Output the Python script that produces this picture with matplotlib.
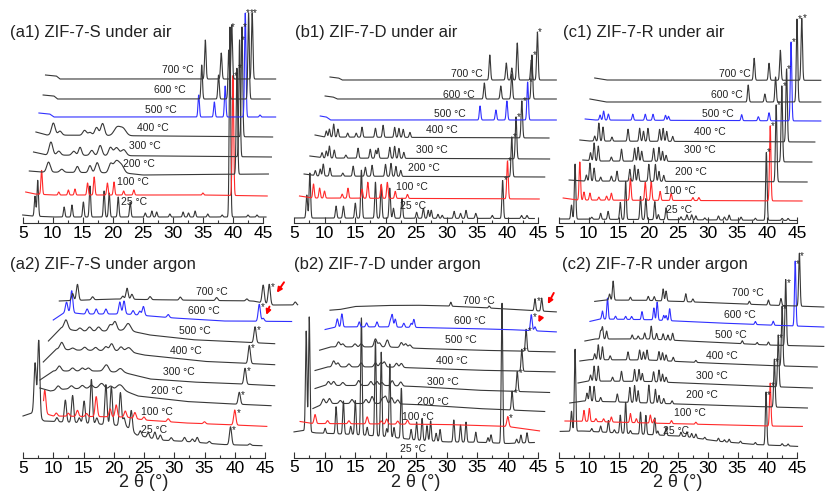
import numpy as np
import matplotlib.pyplot as plt
from matplotlib.ticker import MultipleLocator

plt.rcParams['font.family'] = ['Liberation Sans', 'DejaVu Sans']

W, H = 825, 499

temps = ['25 °C', '100 °C', '200 °C', '300 °C', '400 °C', '500 °C', '600 °C', '700 °C']
titles = ['(a1) ZIF-7-S under air', '(b1) ZIF-7-D under air', '(c1) ZIF-7-R under air',
          '(a2) ZIF-7-S under argon', '(b2) ZIF-7-D under argon', '(c2) ZIF-7-R under argon']

# ---------------- (a1) ----------------
a1_span = [(5.0, 45.5), (5.5, 45.7), (6.1, 45.9), (6.8, 46.4), (7.2, 46.6), (7.7, 47.1), (8.4, 46.2), (8.8, 47.1)]
a1_base = [
    [(5.0, 8), (6.5, 7), (10, 6), (45.5, 6)],
    [(5.5, 31), (7, 29), (10, 28), (35, 28), (45.7, 27)],
    [(6.1, 52), (8, 51), (22, 50), (25, 48), (46, 49)],
    [(6.8, 71), (9, 68), (46.4, 66)],
    [(7.2, 91), (9, 88), (46.6, 86)],
    [(7.7, 110), (9.5, 109), (10.2, 106), (47.1, 106)],
    [(8.4, 128), (10.2, 127), (10.8, 124), (46.2, 124)],
    [(8.8, 148), (10.6, 147), (11.2, 144), (47.1, 144)],
]
a1_peaks = [
    [(7.05, 20), (7.5, 36), (11.9, 10), (13.2, 12), (15.1, 15), (16.2, 31), (18.55, 26), (19.4, 24), (20.9, 20),
     (22.9, 15), (25.4, 4), (26.5, 6), (27.3, 5), (29.5, 3), (31.7, 5), (32.6, 4), (33.7, 6), (35.8, 3), (38.2, 2),
     (39.5, 190), (42.5, 2), (44, 2)],
    [(8.15, 24), (11.0, 3), (12.6, 5), (13.7, 6), (15.8, 12), (16.9, 18), (19.1, 12), (20.2, 13), (21.8, 4),
     (23.5, 5), (35, 2), (40.0, 120)],
    [(9.3, 10, 0.3), (11.5, 3, 0.3), (14.1, 6, 0.25), (16.2, 7, 0.25), (17.4, 10, 0.3), (19.6, 8, 0.3),
     (20.6, 12, 0.5), (21.5, 6, 0.4), (40.66, 106)],
    [(9.7, 13, 0.3), (11, 4, 0.3), (13.5, 4, 0.3), (14.55, 8, 0.25), (16.5, 5, 0.3), (17.9, 10, 0.3),
     (19.6, 8, 0.3), (20.6, 8, 0.4), (21.8, 6, 0.4), (41.1, 117)],
    [(10.1, 12, 0.3), (11.2, 4, 0.3), (15.3, 5, 0.3), (16.2, 3, 0.3), (17.3, 8, 0.3), (18.3, 12, 0.3),
     (20.7, 8, 0.5), (21.7, 7, 0.5), (41.5, 110)],
    [(34.3, 22), (36.9, 15), (38.7, 31), (42.05, 104), (44.5, 2)],
    [(34.8, 34), (37.6, 24), (39.3, 49), (42.6, 86)],
    [(35.4, 39), (38.05, 26), (39.8, 54), (43.2, 66)],
]
a1_star = [39.5, 40.0, 40.66, 41.1, 41.5, 42.05, 42.6, 43.2]

# ---------------- (b1) ----------------
b1_span = [(5.2, 44.4), (5.9, 45.2), (6.65, 46.1), (7.6, 46.9), (8.45, 46.8), (9.3, 48.0), (10.1, 48.0), (10.9, 48.0)]
b1_base = [
    [(5.2, 5), (45, 4.5)],
    [(5.9, 27), (8, 25), (45.2, 24)],
    [(6.65, 49), (9, 47), (46.1, 46)],
    [(7.6, 67), (10, 65), (46.9, 64)],
    [(8.45, 88), (10, 86), (46.8, 85)],
    [(9.3, 107), (10.3, 106), (11, 103), (48, 103)],
    [(10.1, 127), (11.4, 126), (12.1, 124), (48, 124)],
    [(10.9, 146), (12.3, 145), (12.9, 143), (48, 143)],
]
b1_peaks = [
    [(7.1, 23), (7.6, 45), (11.9, 12), (13.1, 12), (15.05, 15), (16.05, 48), (18.35, 36), (19.3, 33), (20.7, 30),
     (21.3, 10), (22.7, 20), (25.1, 6), (26.2, 10), (27.0, 8), (27.5, 8), (28.6, 4), (29.3, 3), (31.25, 7),
     (32.3, 5), (33.2, 8), (34.8, 5), (37.5, 3), (39.2, 38), (42.3, 3), (43.2, 3)],
    [(8.2, 14), (9.2, 10), (10.0, 7), (12.9, 4), (13.85, 10), (16.15, 9), (17.1, 16), (19.3, 14), (20.3, 16),
     (21.6, 7), (23.6, 4), (40.0, 38)],
    [(8.5, 5), (9.3, 7), (9.8, 12), (10.9, 8), (13.0, 3), (14.7, 10), (16.7, 9), (17.8, 11), (20.0, 12),
     (20.9, 13), (21.7, 10), (22.5, 6), (40.7, 40)],
    [(9.6, 5), (10.3, 7), (10.8, 12), (11.6, 8), (13.5, 3), (15.5, 10), (17.5, 9), (18.4, 8), (18.8, 10),
     (20.7, 11), (21.5, 12), (22.2, 10), (23.0, 6), (41.4, 42)],
    [(10.3, 6), (10.8, 8), (11.5, 13), (12.2, 8), (13.8, 4), (15.2, 4), (16.15, 10), (18.35, 9), (19.6, 12),
     (21.5, 10), (22.2, 9), (22.9, 8), (24.0, 5), (42.35, 37)],
    [(35.5, 14), (38.1, 10), (39.9, 19), (43.3, 38)],
    [(36.2, 16), (38.9, 13), (40.7, 25), (44.0, 44)],
    [(37.1, 25), (39.8, 17), (40.7, 12), (41.6, 37), (43.9, 20), (44.9, 48)],
]
b1_star = [39.2, 40.0, 40.7, 41.4, 42.35, 43.3, 44.0, 44.9]

# ---------------- (c1) ----------------
c1_span = [(5.1, 45.0), (5.7, 45.85), (6.7, 46.7), (9.0, 47.5), (8.5, 48.0), (9.4, 49.0), (10.2, 49.0), (11.0, 49.0)]
c1_base = [
    [(5.1, 4), (45, 2.5)],
    [(5.7, 25), (8, 23), (45.85, 22)],
    [(6.7, 43), (9, 42), (46.7, 41)],
    [(9.0, 63), (11, 62), (47.5, 61)],
    [(8.5, 83), (10, 82), (48, 81)],
    [(9.4, 104), (11, 103), (49, 102)],
    [(10.2, 124), (12, 122), (12.8, 121), (49, 121)],
    [(11.0, 145), (13, 143), (49, 142.7)],
]
c1_peaks = [
    [(7.1, 14), (7.7, 55), (10.5, 2), (12.0, 6), (13.25, 8), (15.3, 17), (16.2, 38), (18.7, 23), (19.6, 21),
     (21.1, 18), (21.7, 5), (23.0, 12), (25.5, 3), (26.5, 5), (27.3, 5), (28.0, 4), (29.5, 2), (31.8, 4),
     (32.8, 3), (33.6, 5), (35.6, 3), (38.0, 2), (39.85, 68), (42.5, 2), (43.5, 2)],
    [(8.5, 38), (9.2, 8), (10.2, 7), (11.7, 3), (13.0, 4), (13.8, 7), (17.0, 22), (19.5, 18), (20.5, 19),
     (22.0, 9), (23.85, 7), (27.5, 3), (28.5, 3), (40.5, 75)],
    [(9.6, 6), (10.2, 18), (10.9, 13), (12.0, 4), (13.8, 5), (14.75, 10), (16.9, 12), (17.7, 16), (18.3, 12),
     (20.1, 17), (21.2, 17), (21.8, 10), (22.6, 6), (41.5, 77)],
    [(10.3, 8), (10.9, 18), (11.6, 15), (13.8, 4), (15.5, 12), (17.7, 13), (18.3, 14), (18.9, 10), (20.9, 13),
     (21.8, 14), (22.4, 10), (23.0, 6), (42.45, 76)],
    [(11.0, 5), (11.7, 18), (12.4, 14), (13.9, 4), (16.6, 12), (18.55, 13), (19.2, 10), (19.95, 13), (21.9, 12),
     (22.5, 13), (23.1, 10), (24.1, 5), (43.25, 73)],
    [(11.9, 5), (12.5, 9), (13.3, 6), (17.4, 6), (19.5, 6), (20.8, 6), (22.9, 5), (23.4, 4), (35.7, 6),
     (38.5, 4), (40.3, 8), (44.0, 79)],
    [(36.8, 17), (39.6, 8), (41.4, 25), (45.0, 83)],
    [(37.8, 22), (40.3, 17), (42.2, 30), (45.8, 62)],
]
c1_star = [39.85, 40.5, 41.5, 42.45, 43.25, 44.0, 45.0, 45.8]

# ---------------- (a2) ----------------
a2_span = [(5.0, 44.5), (8.4, 45.3), (7.8, 46.0), (7.8, 46.6), (8.35, 46.6), (9.2, 46.6), (10.0, 49.4), (11.0, 50.4)]
a2_base = [
    [(5.0, 42), (6.5, 45), (8.5, 37), (15, 35), (22.0, 32), (23.8, 23), (27.5, 18), (32, 16.5), (38, 13.5), (44.5, 12.3)],
    [(8.4, 45), (10, 42), (22, 41), (25, 38), (32, 35), (40, 33), (45.3, 31.6)],
    [(7.8, 70), (9.5, 67), (12, 69), (17, 70), (21.5, 68), (24, 62), (32, 56.5), (38, 54.5), (46, 52.3)],
    [(7.8, 78), (10.0, 87), (18, 87), (22, 85), (26, 79), (33, 76), (41, 74), (46.6, 72.3)],
    [(8.35, 96), (10.5, 109), (13, 108), (22, 107), (25, 103), (35, 96.6), (46.6, 93.3)],
    [(9.2, 117), (11.3, 130), (14, 127), (19, 127), (22, 128), (26, 123), (33, 118.3), (46.6, 114.3)],
    [(10.0, 138), (12, 146), (15, 144), (22, 144), (30, 140), (38, 137), (49.4, 136.5)],
    [(11.0, 157), (20, 159), (30, 158), (43, 157), (46.3, 153), (50.4, 153)],
]
a2_peaks = [
    [(7.0, 52), (7.6, 77), (10.6, 4), (12.0, 22), (13.2, 27), (14.3, 5), (15.1, 22), (16.3, 44), (17.2, 6),
     (18.7, 40), (19.6, 38), (21.1, 33), (21.7, 8), (22.9, 20), (24.4, 5), (25.7, 5), (26.8, 7), (27.7, 5),
     (29.5, 3), (31.7, 4), (33.0, 3), (33.8, 5), (35.8, 2), (39.3, 18), (42.5, 1.5)],
    [(8.6, 23), (10.5, 3), (12.5, 3), (14.0, 6), (15.5, 3), (17.1, 20), (19.4, 8), (20.4, 12), (21.9, 6),
     (23.5, 6), (25.0, 3), (29.0, 3), (35.0, 2), (40.0, 15)],
    [(10.8, 4, 0.3), (13, 3, 0.3), (14.8, 3, 0.3), (16.3, 3, 0.3), (18.0, 5, 0.4), (19.5, 3, 0.3),
     (21.0, 5, 0.5), (40.75, 12)],
    [(11.0, 5, 0.3), (13.2, 3, 0.3), (14.8, 3, 0.3), (15.8, 3, 0.3), (18.5, 3, 0.3), (18.9, 5, 0.3),
     (21.1, 4, 0.4), (41.7, 16)],
    [(11.4, 7, 0.3), (13.2, 2, 0.3), (15.2, 3, 0.3), (17.0, 3, 0.3), (18.7, 4, 0.3), (19.65, 7, 0.3),
     (21.2, 4, 0.3), (22.5, 4, 0.4), (42.4, 18)],
    [(12.1, 9, 0.3), (14.4, 3, 0.3), (16.0, 4, 0.3), (17.5, 4, 0.3), (19.4, 6, 0.3), (20.2, 9, 0.3),
     (22.4, 7, 0.4), (43.35, 16)],
    [(12.2, 10), (13.05, 22), (15.6, 5), (17.1, 5), (18.7, 5), (21.0, 12), (21.7, 13), (23.2, 4), (24.3, 4),
     (24.9, 9), (29.0, 3), (44.05, 17), (44.7, 3)],
    [(13.2, 7), (14.0, 16), (16.5, 3), (21.5, 3), (22.2, 11), (23.0, 5), (26.0, 3), (31.0, 3), (37.0, 3),
     (42.0, 2), (44.7, 18), (45.7, 20), (50.0, 3)],
]
a2_star = [39.3, 40.0, 40.75, 41.7, 42.4, 43.35, 44.05, 45.7]

# ---------------- (b2) ----------------
b2_span = [(5.0, 44.4), (6.0, 45.25), (8.1, 46.1), (8.45, 46.9), (8.45, 47.8), (9.2, 47.8), (10.1, 48.0), (10.9, 48.0)]
b2_base = [
    [(5.0, 25.6), (6.5, 27), (8.5, 24.6), (15, 23), (20, 21), (25, 17.5), (30, 15.6), (35, 15.3), (40, 14), (44.4, 15)],
    [(6.0, 36), (8, 34), (20, 33.5), (30, 33), (40, 31), (45.25, 26.6)],
    [(8.1, 49), (10, 54), (20, 54), (25, 53), (35, 49), (46.1, 46)],
    [(8.45, 69), (10, 72), (20, 72), (25, 71), (35, 67.3), (46.9, 65)],
    [(8.45, 87), (10.5, 90.6), (20, 90.6), (25, 89.5), (35, 87.3), (47.8, 85.6)],
    [(9.2, 107.3), (11, 110.6), (20, 110.6), (26, 109), (35, 107.3), (47.8, 105.6)],
    [(10.1, 128), (12, 130.6), (20, 130.6), (30, 129.5), (40, 128), (48, 125.6)],
    [(10.9, 147.3), (12.5, 148), (15, 151), (20, 152), (25, 152.3), (30, 151.5), (37, 149.5), (43, 147.3), (48, 145.6)],
]
b2_peaks = [
    [(7.0, 100), (7.5, 115), (10.1, 5), (11.9, 27), (13.1, 33), (14.3, 8), (15.05, 34), (16.05, 117), (17.0, 8),
     (18.35, 95), (19.3, 84), (20.2, 8), (20.7, 73), (21.4, 10), (22.6, 50), (24.2, 10), (25.1, 18), (26.0, 22),
     (26.8, 15), (27.4, 20), (28.3, 8), (28.95, 12), (31.2, 22), (32.3, 17), (33.2, 20), (34.8, 10), (36.8, 5),
     (37.3, 8), (39.1, 140), (41.5, 4), (42.2, 8), (43.2, 10)],
    [(8.45, 9), (10.5, 3), (14.0, 3), (17.0, 7), (19.3, 3), (20.2, 5), (22.0, 3), (23.6, 4), (40.05, 10)],
    [(9.8, 5), (10.8, 5), (12.6, 3), (14.5, 4), (16.8, 4), (17.8, 7), (19.5, 5), (20.0, 7), (21.0, 6),
     (22.0, 4), (40.75, 19, 0.12)],
    [(10.65, 4), (11.5, 4), (13.0, 3), (15.6, 5), (17.6, 4), (18.6, 4), (19.4, 3), (21.1, 5), (22.5, 4),
     (41.6, 20, 0.12)],
    [(11.5, 6), (12.2, 4), (14.0, 3), (16.0, 4), (18.35, 4), (19.2, 4), (19.8, 5), (21.8, 4), (22.6, 4),
     (42.35, 22, 0.12)],
    [(12.3, 5), (13.0, 3), (15.0, 3), (16.0, 3), (18.35, 8), (19.0, 4), (20.3, 7), (22.6, 5), (23.3, 4),
     (24.0, 3), (43.05, 22, 0.12)],
    [(12.1, 8), (12.85, 13), (15.7, 5), (16.9, 4), (18.6, 5), (20.8, 6), (21.1, 12), (21.6, 8), (23.0, 4),
     (24.2, 4), (24.65, 8), (43.9, 16), (44.5, 4)],
    [(30.7, 4), (37.0, 2), (44.5, 12), (45.6, 13)],
]
b2_star = [None, 40.05, 40.75, 41.6, 42.35, 43.05, 43.9, 44.5]

# ---------------- (c2) ----------------
c2_span = [(5.2, 45.1), (6.0, 45.9), (6.8, 46.75), (8.2, 47.6), (8.5, 48.4), (9.35, 49.5), (10.2, 49.5), (11.0, 49.5)]
c2_base = [
    [(5.2, 26.6), (9, 27), (15, 25), (20, 23.5), (26, 21.6), (32, 16.6), (38, 13.5), (45.1, 11.6)],
    [(6.0, 37), (10, 36.6), (20, 35), (30, 33.5), (40, 32), (45.9, 31.6)],
    [(6.8, 55), (9, 57), (15, 56), (25, 54), (35, 52), (46.75, 50)],
    [(8.2, 75), (10, 77), (20, 76.5), (30, 74), (40, 71.5), (47.6, 70)],
    [(8.5, 97), (10, 98.3), (20, 98), (30, 95), (40, 92.5), (48.4, 91)],
    [(9.35, 117), (11, 119), (20, 119), (30, 116), (40, 113), (49.5, 111.6)],
    [(10.2, 136.6), (12, 139), (20, 138.3), (30, 135.5), (40, 133), (49.5, 131)],
    [(11.0, 156.6), (13, 158), (20, 157.6), (30, 155.5), (40, 153), (49.5, 151)],
]
c2_peaks = [
    [(7.1, 20), (7.7, 82), (10.5, 3), (12.0, 6), (13.3, 12), (14.3, 3), (15.3, 18), (16.2, 31), (17.0, 3),
     (18.7, 22), (19.6, 19), (21.1, 17), (21.6, 4), (23.0, 8), (25.5, 4), (26.5, 5), (27.3, 4), (28.0, 4),
     (29.5, 2), (31.8, 3), (32.8, 2), (33.6, 3), (35.5, 2), (38.0, 2), (39.8, 53), (42.5, 2), (43.5, 2)],
    [(9.2, 11), (10.1, 13), (11.2, 3), (12.5, 3), (13.8, 5), (17.0, 9), (18.0, 4), (20.35, 8), (21.0, 4),
     (23.9, 3), (28.0, 2), (40.5, 43)],
    [(9.7, 8), (10.2, 15), (10.9, 15), (12.0, 4), (14.8, 8), (16.9, 15), (17.7, 17), (18.3, 12), (20.1, 18),
     (21.2, 14), (21.8, 8), (22.6, 5), (24.0, 3), (41.2, 48)],
    [(10.3, 6), (10.9, 15), (11.6, 15), (14.0, 4), (15.5, 10), (17.7, 12), (18.45, 12), (19.0, 8), (20.9, 10),
     (21.8, 12), (22.4, 8), (23.0, 5), (41.85, 52)],
    [(11.0, 6), (11.6, 15), (12.3, 13), (13.6, 4), (16.6, 8), (18.55, 10), (19.2, 8), (19.8, 10), (21.8, 9),
     (22.4, 8), (23.0, 6), (24.2, 4), (28.0, 2), (42.5, 60)],
    [(12.0, 8), (12.3, 12), (13.0, 8), (17.3, 4), (18.3, 3), (19.4, 6), (20.5, 13), (21.4, 6), (22.5, 6),
     (23.3, 5), (24.1, 7), (35.8, 3), (38.3, 2), (40.2, 3), (43.1, 66)],
    [(12.3, 8), (13.15, 21), (14.5, 3), (16.2, 3), (17.2, 3), (18.95, 8), (20.95, 12), (21.5, 18), (22.6, 5),
     (23.0, 5), (23.6, 12), (38.0, 3), (41.0, 4), (44.7, 65)],
    [(13.5, 6), (14.1, 19), (17.0, 3), (20.0, 4), (21.0, 4), (22.5, 12), (23.0, 10), (26.3, 8), (27.5, 3),
     (37.0, 3), (40.2, 5), (42.3, 7), (45.4, 53)],
]
c2_star = [39.8, 40.5, 41.2, 41.85, 42.5, 43.1, 44.7, 45.4]

# ---------------- layout (pixel positions) ----------------
# (left px of 5 deg, right px of 45 deg, axis line px, top px, title x, title y,
#  peak sigma per trace, star dx, star dy)
sharp = [0.12] * 8
panels = [
    (a1_span, a1_base, a1_peaks, a1_star, (22.7, 263, 223, 0, 10, 33, sharp, 0.45, 0)),
    (b1_span, b1_base, b1_peaks, b1_star, (294, 538, 223, 0, 295, 33, sharp, 0.45, 0)),
    (c1_span, c1_base, c1_peaks, c1_star, (559, 797, 223, 0, 563, 32, sharp, 0.45, 0)),
    (a2_span, a2_base, a2_peaks, a2_star, (23, 265, 458, 258, 10, 265, [0.18] * 8, 0.6, -3)),
    (b2_span, b2_base, b2_peaks, b2_star, (294, 538, 457.5, 257.5, 294, 265,
                                           [0.12, 0.16, 0.22, 0.22, 0.22, 0.22, 0.14, 0.12], 0.55, -2)),
    (c2_span, c2_base, c2_peaks, c2_star, (559, 797, 458, 258, 562, 265, sharp, 0.45, -3)),
]

# temperature label anchors (2theta, height above axis) for each panel
lab_pos = [
    [(23.55, 21), (23.4, 41), (24.4, 59.4), (25.4, 77), (26.7, 95), (28.05, 113.4), (29.55, 132.7), (30.85, 153.4)],
    [(24.5, 17), (24.35, 36), (26.3, 55), (27.6, 73.4), (29.3, 93.4), (30.6, 109.4), (32.05, 128.4), (33.4, 148.7)],
    [(25.1, 13.4), (25.35, 32), (27.2, 51), (28.7, 72.7), (30.4, 91), (31.7, 108.7), (33.15, 128.4), (34.5, 148.7)],
    [(26.65, 28.3), (27.1, 46), (28.75, 66.6), (30.7, 86), (31.9, 107.3), (33.4, 127.3), (34.9, 146.6), (36.3, 165.6)],
    [(24.6, 8), (25.3, 40), (27.7, 55.6), (29.4, 75.6), (30.9, 96.6), (32.3, 117.3), (33.8, 136.6), (35.3, 156.6)],
    [(24.6, 26.6), (27.0, 45), (29.1, 63.3), (30.75, 82.3), (32.4, 102.3), (33.9, 123.3), (35.45, 143.3), (36.8, 165)],
]

# red arrows (panel index, tail, head) in data coords
arrows = [
    (3, (45.9, 154), (45.05, 140.5)),
    (3, (48.4, 178), (46.7, 163)),
    (4, (47.8, 167), (46.4, 151)),
    (4, (45.6, 142), (44.9, 132.5)),
]

BLACK = '#383838'
RED = '#ff2a2a'
BLUE = '#3030ff'


def build(span, knots, peaks, sig):
    x = np.linspace(span[0], span[1], 2500)
    kx = [k[0] for k in knots]
    ky = [k[1] for k in knots]
    y = np.interp(x, kx, ky)
    for p in peaks:
        w = p[2] if len(p) > 2 else sig
        y = y + p[1] * np.exp(-0.5 * ((x - p[0]) / w) ** 2)
    return x, y


fig = plt.figure(figsize=(W / 100, H / 100), dpi=100)
axes = []
for i, (spans, bases, peaks, stars, lay) in enumerate(panels):
    left, right, axis_y, top, tx, ty, sigs, sdx, sdy = lay
    ax = fig.add_axes([left / W, 1 - axis_y / H, (right - left) / W, (axis_y - top) / H])
    ax.set_xlim(5, 45)
    ax.set_ylim(0, axis_y - top)
    for s in ['left', 'right', 'top']:
        ax.spines[s].set_visible(False)
    ax.spines['bottom'].set_linewidth(0.8)
    ax.spines['bottom'].set_color('#333333')
    ax.set_yticks([])
    ax.set_xticks(range(5, 46, 5))
    ax.xaxis.set_minor_locator(MultipleLocator(2.5))
    ax.tick_params(axis='x', which='major', direction='in', length=4, width=0.8, labelsize=12.5,
                   pad=2, color='#333333')
    ax.tick_params(axis='x', which='minor', direction='in', length=2.5, width=0.8, color='#333333')
    ax.patch.set_alpha(0)

    blue_idx = 5 if i < 3 else 6
    for j in range(8):
        x, y = build(spans[j], bases[j], peaks[j], sigs[j])
        col = RED if j == 1 else (BLUE if j == blue_idx else BLACK)
        ax.plot(x, y, color=col, lw=0.8, clip_on=False, zorder=2 + j * 0.01)
        if stars[j] is not None:
            ys = np.interp(stars[j], x, y)
            ax.text(stars[j] + sdx, ys + sdy, '*', fontsize=7, ha='center', va='center',
                    color='#222222', zorder=5)
        lx, ly = lab_pos[i][j]
        ax.text(lx, ly, temps[j], fontsize=7.5, ha='center', va='center', color='#222222', zorder=4)

    fig.text(tx / W, 1 - ty / H, titles[i], fontsize=12, ha='left', va='center', color='#222222')
    if i >= 3:
        ax.set_xlabel('2 θ (°)', fontsize=13, labelpad=-1, color='#222222')
    axes.append(ax)

for k, tail, head in arrows:
    axes[k].annotate('', xy=head, xytext=tail,
                     arrowprops=dict(arrowstyle='-|>', color='red', lw=1.4, mutation_scale=7),
                     annotation_clip=False, zorder=6)

fig.savefig('out.png', dpi=100)
